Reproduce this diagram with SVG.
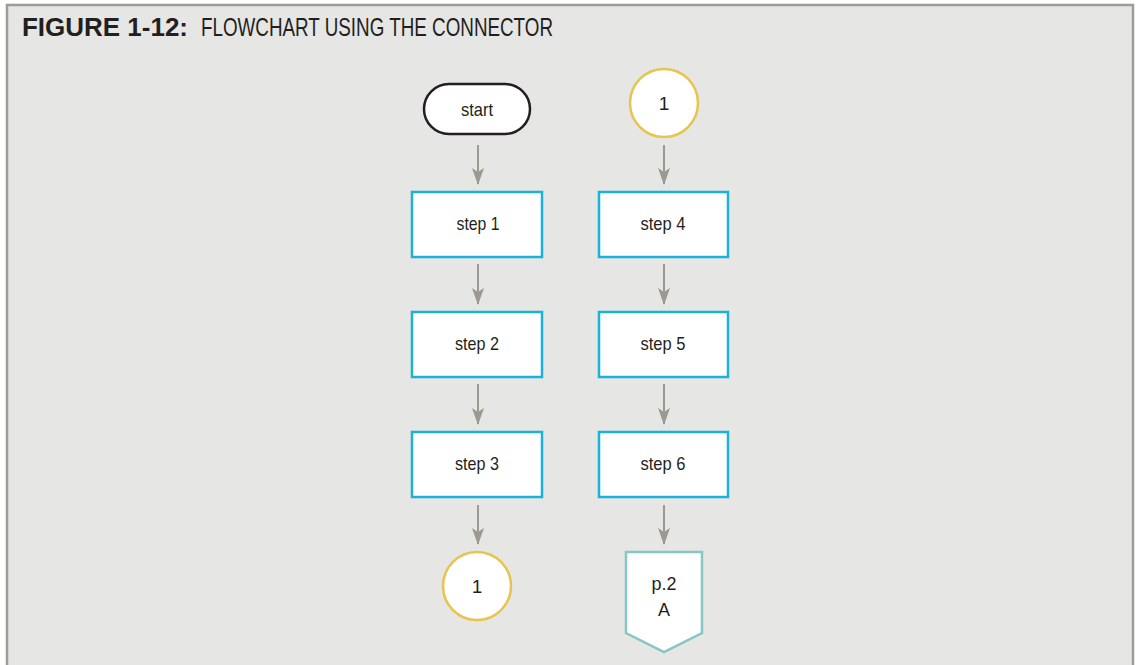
<svg xmlns="http://www.w3.org/2000/svg" width="1137" height="665" viewBox="0 0 1137 665">
<style>
.t{font-family:"Liberation Sans",Arial,sans-serif;fill:#231f20;text-anchor:middle;font-size:19px}
.box{fill:#ffffff;stroke:#1bb1d8;stroke-width:2.5}
.conn{fill:#ffffff;stroke:#e8c44e;stroke-width:2.5}
.term{fill:#ffffff;stroke:#231f20;stroke-width:2.5}
.off{fill:#ffffff;stroke:#86c6c4;stroke-width:2.5}
.edge{stroke:#9a9a93;stroke-width:2;fill:none}
</style>
<defs>
<marker id="ah" markerWidth="17" markerHeight="12" refX="16" refY="6" orient="auto" markerUnits="userSpaceOnUse" viewBox="0 0 17 12">
<path d="M0,0 L17,6 L0,12 L4,6 Z" fill="#9a9a93"/>
</marker>
</defs>
<rect x="0" y="0" width="1137" height="665" fill="#ffffff"/>
<rect x="7" y="5" width="1126" height="670" fill="#e6e6e4" stroke="#9d9d96" stroke-width="2.5"/>
<text x="22" y="36" font-family="Liberation Sans,Arial,sans-serif" font-size="25" font-weight="bold" fill="#231f20" textLength="166" lengthAdjust="spacingAndGlyphs">FIGURE 1-12:</text>
<text x="201" y="36" font-family="Liberation Sans,Arial,sans-serif" font-size="25" fill="#231f20" textLength="352" lengthAdjust="spacingAndGlyphs">FLOWCHART USING THE CONNECTOR</text>
<g id="connectors">
<line class="edge" x1="478" y1="145" x2="478" y2="184" marker-end="url(#ah)"/>
<line class="edge" x1="478" y1="264" x2="478" y2="304" marker-end="url(#ah)"/>
<line class="edge" x1="478" y1="384" x2="478" y2="424" marker-end="url(#ah)"/>
<line class="edge" x1="478" y1="505" x2="478" y2="544" marker-end="url(#ah)"/>
<line class="edge" x1="664" y1="145" x2="664" y2="184" marker-end="url(#ah)"/>
<line class="edge" x1="664" y1="264" x2="664" y2="304" marker-end="url(#ah)"/>
<line class="edge" x1="664" y1="384" x2="664" y2="424" marker-end="url(#ah)"/>
<line class="edge" x1="664" y1="505" x2="664" y2="544" marker-end="url(#ah)"/>
</g>
<g id="start">
<rect class="term" x="424" y="84" width="106" height="50" rx="25" ry="25"/>
<text class="t" x="477" y="116" textLength="32" lengthAdjust="spacingAndGlyphs">start</text>
</g>
<g id="step1">
<rect class="box" x="412" y="192" width="130" height="65"/>
<text class="t" x="478" y="230" textLength="43" lengthAdjust="spacingAndGlyphs">step 1</text>
</g>
<g id="step2">
<rect class="box" x="412" y="312" width="130" height="65"/>
<text class="t" x="477" y="350" textLength="44" lengthAdjust="spacingAndGlyphs">step 2</text>
</g>
<g id="step3">
<rect class="box" x="412" y="432" width="130" height="65"/>
<text class="t" x="477" y="470" textLength="44" lengthAdjust="spacingAndGlyphs">step 3</text>
</g>
<g id="conn-out">
<circle class="conn" cx="477" cy="586" r="34"/>
<text class="t" x="477" y="593">1</text>
</g>
<g id="conn-in">
<circle class="conn" cx="664" cy="103" r="34"/>
<text class="t" x="664" y="110">1</text>
</g>
<g id="step4">
<rect class="box" x="599" y="192" width="129" height="65"/>
<text class="t" x="663" y="230" textLength="45" lengthAdjust="spacingAndGlyphs">step 4</text>
</g>
<g id="step5">
<rect class="box" x="599" y="312" width="129" height="65"/>
<text class="t" x="663" y="350" textLength="45" lengthAdjust="spacingAndGlyphs">step 5</text>
</g>
<g id="step6">
<rect class="box" x="599" y="432" width="129" height="65"/>
<text class="t" x="663" y="470" textLength="45" lengthAdjust="spacingAndGlyphs">step 6</text>
</g>
<g id="offpage">
<polygon class="off" points="626,552 702,552 702,633 664,652 626,633"/>
<text class="t" x="664" y="590" textLength="25" lengthAdjust="spacingAndGlyphs">p.2</text>
<text class="t" x="664" y="616" textLength="12" lengthAdjust="spacingAndGlyphs">A</text>
</g>
</svg>
